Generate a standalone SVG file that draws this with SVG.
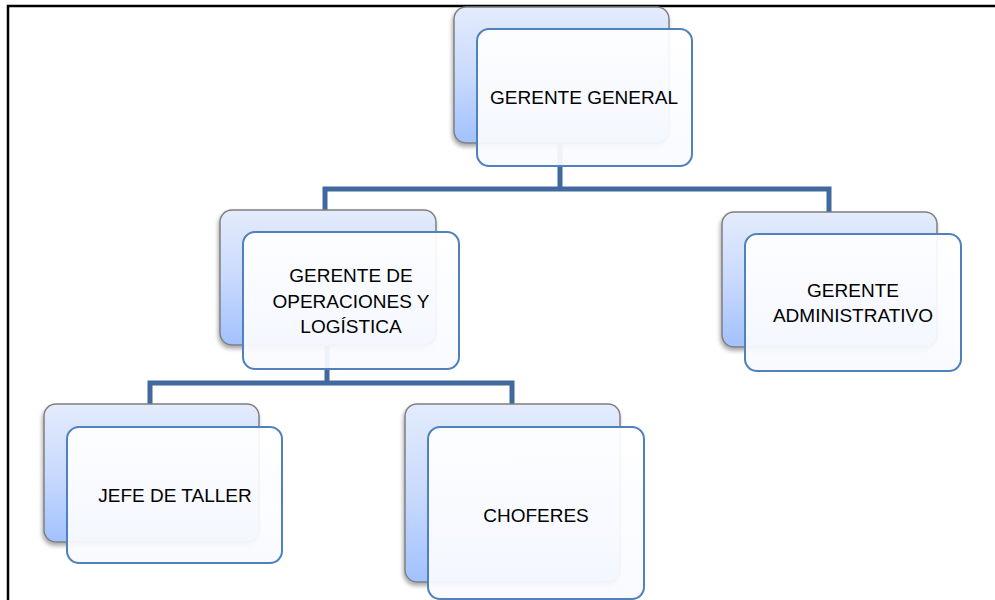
<svg xmlns="http://www.w3.org/2000/svg" width="995" height="600" viewBox="0 0 995 600">
  <defs>
    <linearGradient id="backFill" x1="0" y1="0" x2="0" y2="1">
      <stop offset="0" stop-color="#e4ecfc"/>
      <stop offset="0.5" stop-color="#c9dafd"/>
      <stop offset="1" stop-color="#a2c1fe"/>
    </linearGradient>
    <linearGradient id="frontFill" x1="0" y1="0" x2="0" y2="1">
      <stop offset="0" stop-color="#ffffff" stop-opacity="0.93"/>
      <stop offset="1" stop-color="#f8faff" stop-opacity="0.94"/>
    </linearGradient>
    <filter id="shadow" x="-10%" y="-10%" width="120%" height="125%">
      <feDropShadow dx="-1" dy="3" stdDeviation="2.2" flood-color="#000" flood-opacity="0.35"/>
    </filter>
  </defs>
  <style>
    .back { fill: url(#backFill); stroke: #7f7f7f; stroke-width: 1.5; filter: url(#shadow); }
    .front { fill: url(#frontFill); stroke: #4f81bd; stroke-width: 2; }
    .lbl { font-family: "Liberation Sans", Arial, sans-serif; font-size: 19px; fill: #000; text-anchor: middle; }
    .conn { fill: none; stroke: #41689f; stroke-width: 5; stroke-linejoin: miter; }
  </style>

  <rect width="995" height="600" fill="#fff"/>
  <!-- page frame -->
  <path d="M8,600 V6 H995" fill="none" stroke="#000" stroke-width="2.5"/>

  <g id="connectors">
    <path class="conn" d="M560,143 V189 M325,210 V189 H829 V212"/>
    <path class="conn" d="M327,345 V383 M150,404 V383 H512 V404"/>
  </g>

  <g id="gerente-general">
    <rect class="back" x="454" y="7" width="215" height="136" rx="12"/>
    <rect class="front" x="477" y="29" width="215" height="137" rx="12"/>
    <text class="lbl" x="584" y="104">GERENTE GENERAL</text>
  </g>

  <g id="gerente-operaciones">
    <rect class="back" x="220" y="210" width="216" height="135" rx="12"/>
    <rect class="front" x="243" y="232" width="216" height="137" rx="12"/>
    <text class="lbl" x="351" y="282">GERENTE DE</text>
    <text class="lbl" x="351" y="308">OPERACIONES Y</text>
    <text class="lbl" x="351" y="333">LOGÍSTICA</text>
  </g>

  <g id="gerente-administrativo">
    <rect class="back" x="722" y="212" width="215" height="135" rx="12"/>
    <rect class="front" x="745" y="234" width="216" height="137" rx="12"/>
    <text class="lbl" x="853" y="297">GERENTE</text>
    <text class="lbl" x="853" y="322">ADMINISTRATIVO</text>
  </g>

  <g id="jefe-taller">
    <rect class="back" x="44" y="404" width="215" height="138" rx="12"/>
    <rect class="front" x="67" y="427" width="215" height="136" rx="12"/>
    <text class="lbl" x="175" y="502">JEFE DE TALLER</text>
  </g>

  <g id="choferes">
    <rect class="back" x="405" y="404" width="215" height="178" rx="12"/>
    <rect class="front" x="428" y="427" width="216" height="172" rx="12"/>
    <text class="lbl" x="536" y="522">CHOFERES</text>
  </g>
</svg>
